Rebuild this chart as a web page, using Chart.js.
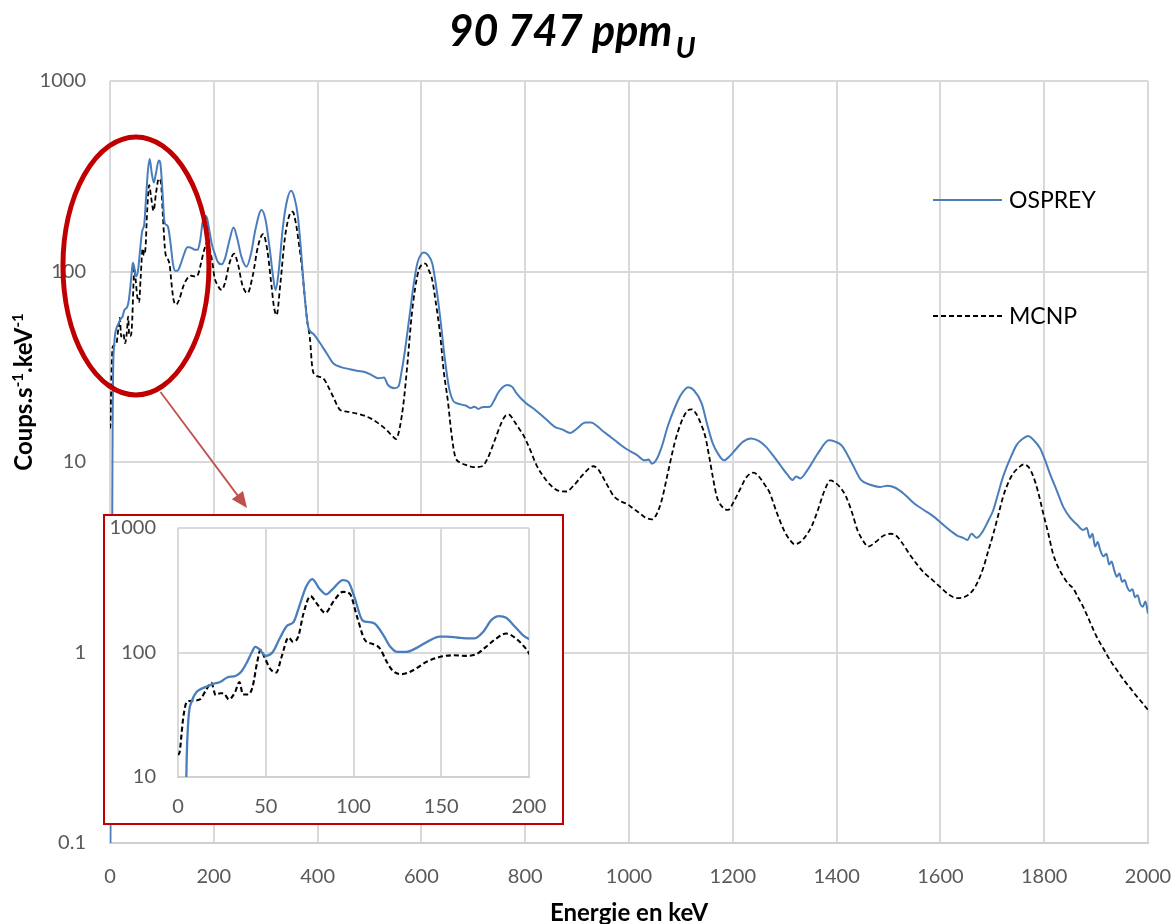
<!DOCTYPE html>
<html>
<head>
<meta charset="utf-8">
<script src="https://cdn.jsdelivr.net/npm/chart.js@4.4.1/dist/chart.umd.min.js"></script>
<style>
  body { margin: 0; background: #fff; }
  #wrap { position: relative; width: 1175px; height: 924px; }
  #main { position: absolute; left: 0; top: 0; display: block; }
  #inset { position: absolute; left: 103px; top: 514px; width: 461px; height: 311px;
           box-sizing: border-box; border: 2px solid #c00000; background: #fff; }
  #zoom { display: block; }
</style>
</head>
<body>
<div id="wrap">
  <canvas id="main" width="1175" height="924"></canvas>
  <div id="inset"><canvas id="zoom" width="457" height="307"></canvas></div>
</div>
<script>
// energies (keV) and counts
const ospreyKeV = [
  0, 2, 4, 5, 6, 8, 10, 12.5, 16, 20, 24, 28, 33, 36, 39, 42, 44, 46.5, 50, 54,
  58, 62, 66, 69, 73, 76.5, 80.5, 84.5, 88, 94, 97, 100.5, 105, 108, 112, 117, 121, 125, 130, 136,
  143, 149, 153, 159, 164, 169, 174, 178.5, 183, 187, 192, 196.5, 201, 208, 215, 222, 230, 238, 245, 253,
  263, 272, 280, 292, 300, 308, 314, 319, 325, 333, 341, 349, 356, 362, 368, 374, 382, 392, 405, 418,
  430, 445, 462, 478, 489, 505, 518, 528, 535, 548, 556, 562, 568, 577, 585, 592, 600, 605, 613, 621,
  628, 636, 645, 654, 661, 669, 685, 695, 702, 710, 717, 732, 740, 747, 756, 765, 775, 783, 800, 810,
  820, 840, 857, 872, 887, 900, 916, 927, 938, 950, 965, 979, 995, 1015, 1030, 1038, 1044, 1053, 1063, 1075,
  1089, 1100, 1114, 1125, 1140, 1150, 1161, 1172, 1183, 1195, 1205, 1220, 1235, 1250, 1264, 1280, 1293, 1305, 1315, 1322,
  1330, 1344, 1365, 1385, 1397, 1410, 1430, 1447, 1465, 1483, 1498, 1512, 1530, 1549, 1568, 1586, 1605, 1622, 1633, 1644,
  1652, 1660, 1670, 1681, 1692, 1702, 1711, 1721, 1735, 1747, 1758, 1769, 1780, 1792, 1800, 1811, 1825, 1837, 1850, 1863,
  1875, 1882, 1888, 1893, 1898, 1903, 1908, 1914, 1920, 1925, 1930, 1935, 1940, 1945, 1950, 1955, 1960, 1965, 1970, 1975,
  1980, 1985, 1990, 1995, 2000
];
const ospreyCounts = [
  0.05, 0.3, 3, 15, 30, 41, 47, 50.5, 53, 56, 58, 63, 65, 70, 82, 100, 111, 106, 94, 101,
  130, 163, 177, 233, 337, 389, 327, 293, 322, 382, 370, 280, 182, 176, 171, 138, 111, 101, 101, 109,
  124, 134, 134, 132, 130, 130, 147, 182, 196, 190, 161, 138, 126, 112, 109, 118, 145, 170, 150, 120,
  106, 125, 165, 210, 185, 130, 95, 80, 100, 170, 235, 265, 240, 195, 130, 80, 51, 47, 42, 37,
  33, 31.5, 30.7, 30, 29.8, 28.5, 27.5, 27.8, 25.5, 24.4, 25, 30, 38, 58, 85, 110, 124, 126, 122, 110,
  85, 58, 35, 23.9, 21, 20.3, 19.8, 19.2, 19.5, 19, 19.4, 19.5, 21, 22.9, 24.6, 25.4, 24.8, 23, 20.5, 19.6,
  18.7, 16.8, 15.3, 14.8, 14.2, 15, 16.1, 16.1, 15.5, 14.5, 13.5, 12.6, 11.7, 10.9, 10.2, 10.3, 9.8, 10.3, 12, 15.5,
  19.5, 22.5, 24.7, 23.8, 20.3, 16, 12.6, 11, 10.2, 10.8, 11.6, 12.8, 13.3, 12.9, 12, 10.6, 9.5, 8.6, 8.05, 8.4,
  8.2, 9.1, 11.2, 13, 12.8, 12.2, 9.8, 8.05, 7.6, 7.4, 7.5, 7.35, 6.8, 6.07, 5.6, 5.2, 4.7, 4.3, 4.1, 4.0,
  3.9, 4.2, 4.0, 4.3, 4.9, 5.6, 6.8, 8.4, 10.5, 12.3, 13.2, 13.7, 13.0, 11.8, 10.5, 8.7, 7.0, 5.8, 5.1, 4.7,
  4.4, 4.5, 4.0, 4.2, 3.6, 3.8, 3.45, 3.2, 3.3, 2.9, 3.0, 2.7, 2.5, 2.6, 2.35, 2.4, 2.2, 2.1, 2.15, 1.95,
  2.0, 1.8, 1.74, 1.85, 1.6
];

const mcnpKeV = [
  0, 1, 2, 3, 5, 8, 12.5, 16, 19, 21.5, 24, 26, 29, 32.5, 35, 37, 40, 42.5, 45, 47,
  49.5, 52.5, 56, 59, 63, 65.5, 68.5, 71.5, 75.5, 79, 84, 88.5, 94, 98, 102, 106.5, 111, 115, 119, 122.5,
  127.5, 134, 141.5, 149, 157, 164, 170, 175.5, 181.5, 187, 193, 198.5, 201, 207, 215, 222, 230, 239, 247, 255,
  265, 275, 285, 295, 303, 311, 316, 321, 328, 337, 345, 352, 358, 364, 369, 375, 380, 385, 390, 396,
  411, 420, 430, 444, 456, 474, 490, 503, 518, 533, 545, 551, 558, 566, 574, 581, 588, 595, 602, 608,
  614, 621, 628, 636, 643, 651, 658, 665, 676, 688, 700, 717, 728, 739, 754, 762, 769, 778, 788, 798,
  810, 822, 835, 848, 862, 879, 893, 910, 924, 931, 940, 950, 960, 971, 985, 997, 1008, 1020, 1032, 1044,
  1053, 1063, 1075, 1088, 1100, 1112, 1121, 1130, 1140, 1147, 1155, 1162, 1169, 1180, 1191, 1202, 1213, 1226, 1240, 1250,
  1260, 1271, 1285, 1300, 1310, 1319, 1330, 1341, 1352, 1364, 1376, 1388, 1397, 1408, 1418, 1430, 1440, 1450, 1461, 1475,
  1490, 1505, 1515, 1525, 1540, 1555, 1570, 1585, 1600, 1618, 1631, 1645, 1660, 1672, 1683, 1692, 1702, 1711, 1721, 1730,
  1740, 1750, 1760, 1770, 1779, 1788, 1798, 1808, 1817, 1827, 1837, 1846, 1856, 1865, 1875, 1888, 1901, 1914, 1927, 1940,
  1953, 1966, 1978, 1990, 2000
];
const mcnpCounts = [
  15, 16, 22, 30, 40, 41, 42, 50, 57, 45.5, 47, 47, 42, 48, 58, 46, 46, 53, 82, 105,
  90, 74, 69, 92, 132, 122, 134, 206, 284, 248, 208, 256, 307, 295, 194, 126, 117, 108, 84, 71,
  67, 72, 84, 92, 95, 94, 97, 111, 130, 142, 128, 106, 94, 85, 80, 88, 110, 124, 108, 85,
  77, 95, 135, 157, 130, 85, 65, 59, 85, 150, 195, 206, 180, 140, 110, 75, 55, 45, 31, 28.6,
  27.5, 25, 22, 18.7, 18.4, 18, 17.5, 16.9, 15.9, 14.7, 13.6, 13.2, 15, 20.9, 35, 58, 82, 102, 109, 110,
  102, 90, 68, 47, 30, 20.9, 14, 10.7, 9.9, 9.6, 9.4, 9.5, 10.5, 12.5, 16, 17.5, 17.7, 16.5, 15, 13.6,
  11.5, 9.6, 8.4, 7.6, 7.1, 7.0, 7.5, 8.5, 9.3, 9.5, 9.2, 8.3, 7.4, 6.6, 6.2, 6.0, 5.7, 5.4, 5.1, 5.0,
  5.3, 6.3, 8.8, 12.6, 16, 18.5, 18.9, 17.8, 15.5, 13.6, 10.5, 8.2, 6.6, 5.8, 5.6, 6.2, 7.1, 8.3, 8.8, 8.4,
  7.7, 6.9, 5.4, 4.3, 3.9, 3.7, 3.8, 4.1, 4.6, 5.6, 7.0, 8.0, 7.8, 7.3, 6.6, 5.4, 4.4, 3.9, 3.6, 3.8,
  4.1, 4.2, 4.1, 3.8, 3.3, 2.9, 2.6, 2.4, 2.2, 2.0, 1.93, 1.95, 2.08, 2.35, 2.8, 3.4, 4.2, 5.2, 6.6, 7.7,
  8.7, 9.3, 9.7, 9.4, 8.4, 7.0, 5.4, 4.2, 3.3, 2.8, 2.5, 2.3, 2.17, 1.95, 1.74, 1.45, 1.21, 1.05, 0.91, 0.81,
  0.72, 0.65, 0.59, 0.54, 0.5
];

const xTicksMain = [0, 200, 400, 600, 800, 1000, 1200, 1400, 1600, 1800, 2000];
const yTicksMain = [0.1, 1, 10, 100, 1000];
const xTicksZoom = [0, 50, 100, 150, 200];
const yTicksZoom = [10, 100, 1000];

const FONT = "Lato, 'Liberation Sans', sans-serif";
const BLUE = '#4a7ebb';
const GRID = '#d9d9d9';
const TICK = '#595959';

const toPoints = (xs, ys) => xs.map((x, i) => ({ x: x, y: ys[i] }));

const makeDatasets = (width) => [
  {
    label: 'OSPREY',
    data: toPoints(ospreyKeV, ospreyCounts),
    borderColor: BLUE,
    borderWidth: width,
    pointRadius: 0,
    cubicInterpolationMode: 'monotone',
    fill: false,
  },
  {
    label: 'MCNP',
    data: toPoints(mcnpKeV, mcnpCounts),
    borderColor: '#000000',
    borderWidth: width - 0.2,
    borderDash: [5, 3],
    pointRadius: 0,
    cubicInterpolationMode: 'monotone',
    fill: false,
  },
];

const setTicks = (list) => (scale) => {
  scale.ticks = list.map((v) => ({ value: v }));
};

// keep the plot area where the layout padding puts it
const fixX = (h) => (s) => { s.height = h; s.paddingLeft = 0; s.paddingRight = 0; };
const fixY = (w) => (s) => { s.width = w; s.paddingTop = 0; s.paddingBottom = 0; };

// title, axis titles, legend, ellipse and arrow on the main chart
const decor = {
  id: 'decor',
  afterDraw(chart) {
    const ctx = chart.ctx;
    const area = chart.chartArea;
    const xs = chart.scales.x;
    const ys = chart.scales.y;
    ctx.save();

    // title
    ctx.fillStyle = '#000';
    ctx.textBaseline = 'alphabetic';
    ctx.textAlign = 'left';
    ctx.font = "italic bold 43px " + FONT;
    const main = '90 747 ppm';
    const w1 = ctx.measureText(main).width;
    ctx.font = "italic bold 29px " + FONT;
    const w2 = ctx.measureText('U').width;
    const start = 572 - (w1 + 3 + w2) / 2;
    ctx.font = "italic bold 43px " + FONT;
    ctx.fillText(main, start, 46);
    ctx.font = "italic bold 29px " + FONT;
    ctx.fillText('U', start + w1 + 3, 58);

    // x title
    ctx.font = "bold 24px " + FONT;
    ctx.textAlign = 'center';
    ctx.fillText('Energie en keV', (area.left + area.right) / 2, 921);

    // y title with superscripts
    const parts = [
      { t: 'Coups.s', sup: false },
      { t: '-1', sup: true },
      { t: '.keV', sup: false },
      { t: '-1', sup: true },
    ];
    const fontOf = (p) => (p.sup ? "bold 15px " : "bold 24px ") + FONT;
    let total = 0;
    parts.forEach((p) => { ctx.font = fontOf(p); total += ctx.measureText(p.t).width; });
    ctx.translate(32, 392);
    ctx.rotate(-Math.PI / 2);
    ctx.textAlign = 'left';
    let cx = -total / 2;
    parts.forEach((p) => {
      ctx.font = fontOf(p);
      ctx.fillText(p.t, cx, p.sup ? -9 : 0);
      cx += ctx.measureText(p.t).width;
    });
    ctx.setTransform(1, 0, 0, 1, 0, 0);

    // legend
    const legendRows = [
      { ds: chart.data.datasets[0], y: 200 },
      { ds: chart.data.datasets[1], y: 316 },
    ];
    legendRows.forEach((r) => {
      ctx.beginPath();
      ctx.strokeStyle = r.ds.borderColor;
      ctx.lineWidth = 2;
      ctx.setLineDash(r.ds.borderDash || []);
      ctx.moveTo(933, r.y);
      ctx.lineTo(1002, r.y);
      ctx.stroke();
      ctx.setLineDash([]);
      ctx.fillStyle = '#000';
      ctx.font = "23px " + FONT;
      ctx.textBaseline = 'middle';
      ctx.textAlign = 'left';
      ctx.fillText(r.ds.label, 1009, r.y + 1);
    });

    // red ellipse around the low-energy part
    const ex = xs.getPixelForValue(50);
    const ey = ys.getPixelForValue(107);
    ctx.beginPath();
    ctx.strokeStyle = '#c00000';
    ctx.lineWidth = 5;
    ctx.ellipse(ex, ey, 73, 129, 0, 0, Math.PI * 2);
    ctx.stroke();

    // arrow to the inset
    const ax0 = 160.5, ay0 = 392, ax1 = 247, ay1 = 508;
    const ang = Math.atan2(ay1 - ay0, ax1 - ax0);
    ctx.strokeStyle = '#c0504d';
    ctx.fillStyle = '#c0504d';
    ctx.lineWidth = 1.8;
    ctx.beginPath();
    ctx.moveTo(ax0, ay0);
    ctx.lineTo(ax1 - 12 * Math.cos(ang), ay1 - 12 * Math.sin(ang));
    ctx.stroke();
    ctx.beginPath();
    ctx.moveTo(ax1, ay1);
    ctx.lineTo(ax1 - 16 * Math.cos(ang) + 7 * Math.sin(ang), ay1 - 16 * Math.sin(ang) - 7 * Math.cos(ang));
    ctx.lineTo(ax1 - 16 * Math.cos(ang) - 7 * Math.sin(ang), ay1 - 16 * Math.sin(ang) + 7 * Math.cos(ang));
    ctx.closePath();
    ctx.fill();

    ctx.restore();
  },
};

new Chart(document.getElementById('main'), {
  type: 'line',
  data: { datasets: makeDatasets(2) },
  options: {
    responsive: false,
    animation: false,
    devicePixelRatio: 1,
    layout: { padding: { left: 0, right: 27, top: 81, bottom: 0 } },
    plugins: { legend: { display: false }, tooltip: { enabled: false }, title: { display: false } },
    scales: {
      x: {
        type: 'linear',
        min: 0,
        max: 2000,
        afterBuildTicks: setTicks(xTicksMain),
        afterFit: fixX(81),
        grid: { color: GRID, lineWidth: 2, drawTicks: false },
        border: { display: true, color: '#d0d0d0', width: 2 },
        ticks: { padding: 22, color: TICK, font: { family: FONT, size: 20 }, maxRotation: 0, callback: (v) => String(v) },
      },
      y: {
        type: 'logarithmic',
        min: 0.1,
        max: 1000,
        afterBuildTicks: setTicks(yTicksMain),
        afterFit: fixY(110),
        grid: { color: GRID, lineWidth: 2, drawTicks: false },
        border: { display: false },
        ticks: { padding: 24, color: TICK, font: { family: FONT, size: 20 }, callback: (v) => String(v) },
      },
    },
  },
  plugins: [decor],
});

new Chart(document.getElementById('zoom'), {
  type: 'line',
  data: { datasets: makeDatasets(2.3) },
  options: {
    responsive: false,
    animation: false,
    devicePixelRatio: 1,
    layout: { padding: { left: 0, right: 33, top: 12, bottom: 0 } },
    plugins: { legend: { display: false }, tooltip: { enabled: false } },
    scales: {
      x: {
        type: 'linear',
        min: 0,
        max: 200,
        afterBuildTicks: setTicks(xTicksZoom),
        afterFit: fixX(46),
        grid: { color: GRID, lineWidth: 2, drawTicks: false },
        border: { display: true, color: '#d0d0d0', width: 2 },
        ticks: { padding: 18, color: TICK, font: { family: FONT, size: 20 }, maxRotation: 0, callback: (v) => String(v) },
      },
      y: {
        type: 'logarithmic',
        min: 10,
        max: 1000,
        afterBuildTicks: setTicks(yTicksZoom),
        afterFit: fixY(73),
        grid: { color: GRID, lineWidth: 2, drawTicks: false },
        border: { display: false },
        ticks: { padding: 22, color: TICK, font: { family: FONT, size: 20 }, callback: (v) => String(v) },
      },
    },
  },
});
</script>
</body>
</html>
